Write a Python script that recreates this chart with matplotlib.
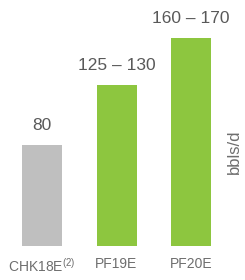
import matplotlib
matplotlib.use("Agg")
import matplotlib.pyplot as plt

categories = ["CHK18E$^{(2)}$", "PF19E", "PF20E"]
values = [80, 127.5, 165]
value_labels = ["80", "125 – 130", "160 – 170"]
colors = ["#bfbfbf", "#8dc63f", "#8dc63f"]
unit = "bbls/d"

plt.rcParams['font.family'] = ['Liberation Sans', 'DejaVu Sans']
plt.rcParams['mathtext.fontset'] = 'custom'
plt.rcParams['mathtext.rm'] = 'Liberation Sans'
plt.rcParams['mathtext.it'] = 'Liberation Sans'
plt.rcParams['mathtext.default'] = 'regular'
fig = plt.figure(figsize=(2.45, 2.8), dpi=100)
ax = fig.add_axes([0, 0, 1, 1])
px_x = 74.5
px_y = 1.26
ax.set_xlim(-42 / px_x, (245 - 42) / px_x)
ax.set_ylim(-34 / px_y, (280 - 34) / px_y)
x = list(range(len(categories)))
ax.bar(x, values, width=40 / px_x, color=colors)
for xi, v, lab in zip(x, values, value_labels):
    ax.annotate(lab, (xi, v), xytext=(0, 9), textcoords="offset points",
                ha="center", va="bottom", fontsize=12.5, color="#595959")
for xi, c in zip(x, categories):
    ax.annotate(c, (xi, 0), xytext=(0, -8), textcoords="offset points",
                ha="center", va="top", fontsize=10, color="#6e6e6e")
ax.text(234 / 245, 1 - 152 / 280, unit, transform=ax.transAxes, rotation=90,
        ha="center", va="center", fontsize=12, color="#6e6e6e")
ax.axis("off")
fig.savefig("out.png", dpi=100)
